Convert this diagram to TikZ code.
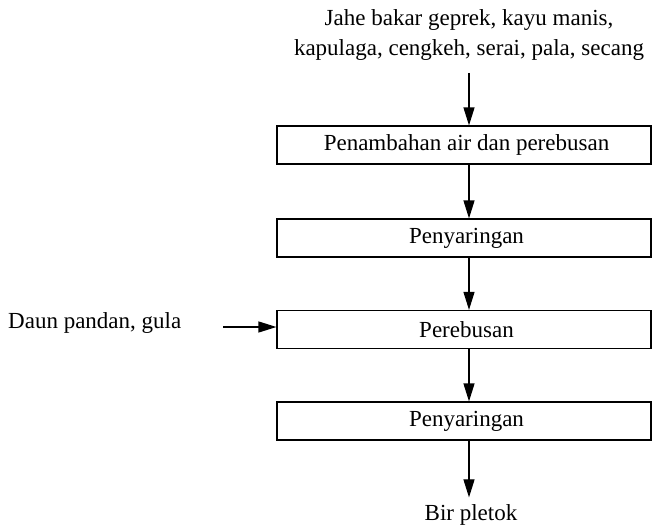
\documentclass[tikz,border=0pt]{standalone}
\usepackage{fontspec}
\setmainfont{Liberation Serif}
\usetikzlibrary{arrows.meta}
\begin{document}
\begin{tikzpicture}[x=1pt,y=-1pt,
  every node/.style={font=\fontsize{23}{29.5}\selectfont, inner sep=0pt},
  stepbox/.style={draw, line width=1.2pt, minimum width=374pt, minimum height=38pt},
  arr/.style={line width=1.2pt, -{Triangle[width=11pt,length=18pt]}}]
\useasboundingbox (0,0) rectangle (653,527);
\node[align=center] (top) at (469,35) {Jahe bakar geprek, kayu manis,\\kapulaga, cengkeh, serai, pala, secang};
\node[stepbox] (b1) at (464,145) {\hspace*{5pt}Penambahan air dan perebusan};
\node[stepbox] (b2) at (464,238) {\hspace*{5pt}Penyaringan};
\node[stepbox] (b3) at (464,329.5) {\hspace*{5pt}Perebusan};
\node[stepbox] (b4) at (464,421) {\hspace*{5pt}Penyaringan};
\node (bir) at (471,515) {Bir pletok};
\node[anchor=west] (daun) at (8,323) {Daun pandan, gula};
\coordinate (ls) at (223,327);
\coordinate (t0) at (469,73);
\draw[arr] (t0) -- (t0 |- b1.north);
\draw[arr] ([xshift=5pt]b1.south) -- ([xshift=5pt]b2.north);
\draw[arr] ([xshift=5pt]b2.south) -- ([xshift=5pt]b3.north);
\draw[arr] ([xshift=5pt]b3.south) -- ([xshift=5pt]b4.north);
\draw[arr] ([xshift=5pt]b4.south) -- ([xshift=5pt,yshift=7pt]b4.south |- bir.north);
\draw[arr] (ls) -- (ls -| b3.west);
\end{tikzpicture}
\end{document}
